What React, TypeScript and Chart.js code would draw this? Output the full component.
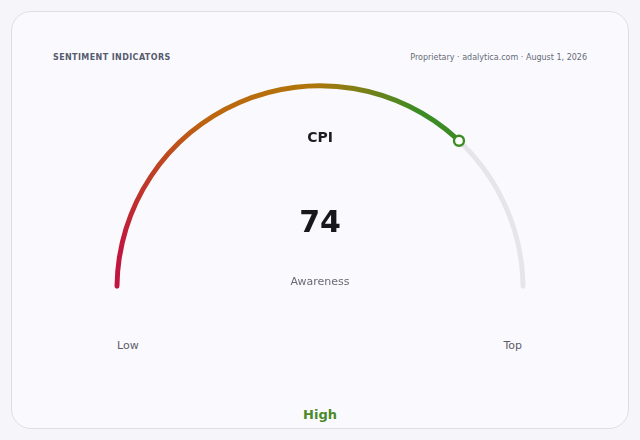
import { useEffect, useRef } from "react";
import { Chart, registerables } from "chart.js";

Chart.register(...registerables);

const gaugeLabels = ["CPI", "Remaining"];
const gaugeValues = [74, 26];
const gaugeMax = 100;
const scaleLabels = ["Low", "Top"];
const metricName = "Awareness";
const bandLabel = "High";

const TRACK = "#e5e5ea";
const CRIMSON = "#c0163f";
const ORANGE = "#bd660e";
const GOLD = "#b0760b";
const GREEN = "#3d8b25";

const knobPlugin = {
  id: "knob",
  afterDatasetsDraw(chart: any) {
    const arc = chart.getDatasetMeta(0).data[0];
    if (!arc) return;
    const { x, y, endAngle, outerRadius, innerRadius } = arc.getProps(
      ["x", "y", "endAngle", "outerRadius", "innerRadius"],
      true
    );
    const rc = (outerRadius + innerRadius) / 2;
    const ctx = chart.ctx;
    ctx.save();
    ctx.beginPath();
    ctx.arc(x + rc * Math.cos(endAngle), y + rc * Math.sin(endAngle), 5, 0, Math.PI * 2);
    ctx.fillStyle = "#ffffff";
    ctx.fill();
    ctx.lineWidth = 2.4;
    ctx.strokeStyle = GREEN;
    ctx.stroke();
    ctx.restore();
  },
};

export default function App() {
  const canvasRef = useRef<HTMLCanvasElement>(null);
  const chartRef = useRef<Chart | null>(null);

  useEffect(() => {
    if (!canvasRef.current) return;
    if (chartRef.current) chartRef.current.destroy();
    const ctx = canvasRef.current.getContext("2d");
    if (!ctx) return;

    // sweep gradient along the filled part: crimson -> orange -> gold -> green
    const fillGradient = (c: any) => {
      const { chart } = c;
      const area = chart.chartArea;
      if (!area) return ORANGE;
      const cx = (area.left + area.right) / 2;
      const cy = area.bottom;
      const turn = (gaugeValues[0] / gaugeMax) * 0.5;
      const g = chart.ctx.createConicGradient(Math.PI, cx, cy);
      g.addColorStop(0, CRIMSON);
      g.addColorStop(turn * 0.08, CRIMSON);
      g.addColorStop(turn * 0.43, ORANGE);
      g.addColorStop(turn * 0.66, GOLD);
      g.addColorStop(turn * 0.89, GREEN);
      g.addColorStop(0.55, GREEN);
      g.addColorStop(0.75, CRIMSON);
      g.addColorStop(1, CRIMSON);
      return g;
    };

    chartRef.current = new Chart(ctx, {
      type: "doughnut",
      data: {
        labels: gaugeLabels,
        datasets: [
          {
            data: gaugeValues,
            backgroundColor: (c: any) => (c.dataIndex === 0 ? fillGradient(c) : TRACK),
            borderWidth: 0,
            borderRadius: 3,
            hoverOffset: 0,
          },
        ],
      },
      options: {
        animation: false,
        responsive: true,
        maintainAspectRatio: false,
        rotation: -90,
        circumference: 180,
        cutout: "97.6%",
        radius: 205.5,
        layout: { padding: 10 },
        events: [],
        plugins: {
          legend: { display: false },
          tooltip: { enabled: false },
        },
      },
      plugins: [knobPlugin],
    });

    return () => {
      if (chartRef.current) {
        chartRef.current.destroy();
        chartRef.current = null;
      }
    };
  }, []);

  const font = "'DejaVu Sans', sans-serif";

  return (
    <div
      style={{
        position: "fixed",
        left: 0,
        top: 0,
        width: 640,
        height: 440,
        background: "#f6f6fa",
        fontFamily: font,
        overflow: "hidden",
      }}
    >
      <div
        style={{
          position: "absolute",
          left: 11,
          top: 11,
          width: 616,
          height: 416,
          border: "1px solid #dedee8",
          borderRadius: 20,
          background: "#fafafe",
        }}
      />
      <div
        style={{
          position: "absolute",
          left: 53,
          top: 52,
          fontSize: 8,
          fontWeight: "bold",
          letterSpacing: 0.4,
          color: "#575b6e",
          lineHeight: "12px",
        }}
      >
        SENTIMENT INDICATORS
      </div>
      <div
        style={{
          position: "absolute",
          right: 53,
          top: 52,
          fontSize: 8,
          color: "#666a76",
          lineHeight: "12px",
        }}
      >
        Proprietary · adalytica.com · August 1, 2026
      </div>
      <div style={{ position: "absolute", left: 104, top: 73, width: 432, height: 226 }}>
        <canvas ref={canvasRef}></canvas>
      </div>
      <div
        style={{
          position: "absolute",
          left: 220,
          width: 200,
          top: 128,
          textAlign: "center",
          fontSize: 14,
          fontWeight: "bold",
          color: "#1c1c22",
          lineHeight: "18px",
        }}
      >
        {gaugeLabels[0]}
      </div>
      <div
        style={{
          position: "absolute",
          left: 220,
          width: 200,
          top: 204,
          textAlign: "center",
          fontSize: 30,
          fontWeight: "bold",
          color: "#17171c",
          lineHeight: "36px",
        }}
      >
        {gaugeValues[0]}
      </div>
      <div
        style={{
          position: "absolute",
          left: 220,
          width: 200,
          top: 275,
          textAlign: "center",
          fontSize: 11,
          color: "#6a6a76",
          lineHeight: "14px",
        }}
      >
        {metricName}
      </div>
      <div
        style={{
          position: "absolute",
          left: 117,
          top: 339,
          fontSize: 11,
          color: "#5c5c66",
          lineHeight: "14px",
        }}
      >
        {scaleLabels[0]}
      </div>
      <div
        style={{
          position: "absolute",
          right: 118,
          top: 339,
          fontSize: 11,
          color: "#5c5c66",
          lineHeight: "14px",
        }}
      >
        {scaleLabels[1]}
      </div>
      <div
        style={{
          position: "absolute",
          left: 220,
          width: 200,
          top: 406,
          textAlign: "center",
          fontSize: 13,
          fontWeight: "bold",
          color: "#4a8a2c",
          lineHeight: "18px",
        }}
      >
        {bandLabel}
      </div>
    </div>
  );
}
